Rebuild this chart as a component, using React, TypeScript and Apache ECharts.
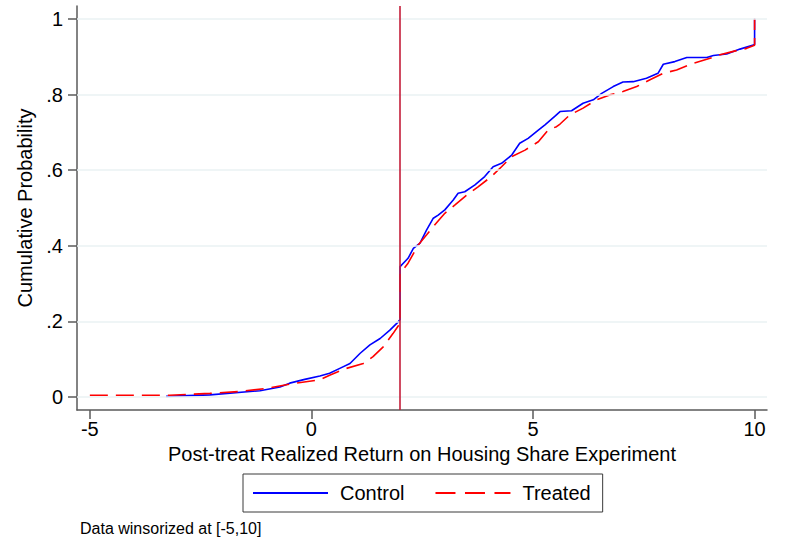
import React, { useEffect, useRef } from "react";
import * as echarts from "echarts";

const xTicks = [-5, 0, 5, 10];
const yTicks = [0, 0.2, 0.4, 0.6, 0.8, 1];
const yTickLabels = ["0", ".2", ".4", ".6", ".8", "1"];
const cutoff = 2;

const controlX = [-3.28, -2.29, -1.16, -0.71, -0.49, -0.15, 0.19, 0.41, 0.64, 0.87, 1.10, 1.32, 1.55, 1.77, 1.96, 2, 2, 2.18, 2.30, 2.45, 2.60, 2.75, 2.86, 3.01, 3.20, 3.31, 3.46, 3.69, 3.91, 4.10, 4.29, 4.52, 4.70, 4.89, 5.12, 5.27, 5.49, 5.61, 5.87, 6.13, 6.36, 6.55, 6.81, 7.03, 7.26, 7.56, 7.82, 7.94, 8.20, 8.47, 8.92, 9.07, 9.37, 9.67, 9.97, 10, 10];
const controlY = [0.002, 0.006, 0.017, 0.027, 0.037, 0.047, 0.056, 0.063, 0.076, 0.089, 0.116, 0.138, 0.155, 0.177, 0.199, 0.205, 0.345, 0.367, 0.393, 0.407, 0.442, 0.473, 0.481, 0.495, 0.521, 0.539, 0.543, 0.561, 0.583, 0.609, 0.618, 0.640, 0.671, 0.684, 0.706, 0.720, 0.742, 0.755, 0.757, 0.777, 0.786, 0.803, 0.821, 0.833, 0.834, 0.843, 0.856, 0.880, 0.887, 0.898, 0.898, 0.903, 0.907, 0.920, 0.931, 0.932, 1.0];

const treatedX = [-5, -3.20, -2.29, -1.62, -1.01, -0.42, 0.19, 0.41, 0.79, 1.17, 1.39, 1.62, 1.84, 1.97, 2, 2, 2.18, 2.41, 2.60, 2.78, 3.01, 3.24, 3.50, 3.76, 4.06, 4.29, 4.52, 4.82, 5.12, 5.34, 5.53, 5.61, 5.83, 6.13, 6.43, 6.73, 7.03, 7.34, 7.64, 7.94, 8.24, 8.61, 8.92, 9.22, 9.52, 9.82, 9.97, 10, 10];
const treatedY = [0.005, 0.005, 0.010, 0.015, 0.023, 0.036, 0.046, 0.058, 0.076, 0.089, 0.107, 0.133, 0.168, 0.190, 0.192, 0.327, 0.354, 0.402, 0.429, 0.455, 0.486, 0.508, 0.534, 0.556, 0.583, 0.609, 0.636, 0.653, 0.675, 0.706, 0.715, 0.722, 0.746, 0.764, 0.786, 0.799, 0.808, 0.821, 0.839, 0.856, 0.865, 0.882, 0.893, 0.905, 0.914, 0.922, 0.929, 0.930, 1.0];

const FONT = "'Liberation Sans', Arial, sans-serif";
const AXIS_COLOR = "#5a5a5a";

export default function App() {
  const ref = useRef<HTMLDivElement>(null);

  useEffect(() => {
    if (!ref.current) return;
    const chart = echarts.init(ref.current, null, { renderer: "svg" });
    const zip = (xs: number[], ys: number[]) => xs.map((x, i) => [x, ys[i]]);

    const option: any = {
      animation: false,
      backgroundColor: "#ffffff",
      textStyle: { fontFamily: FONT },
      title: {
        text: "Data winsorized at [-5,10]",
        left: 80,
        top: 520,
        padding: 0,
        textStyle: { fontSize: 16, fontWeight: "normal", color: "#000", fontFamily: FONT },
      },
      grid: { left: 77, right: 20, top: 6, bottom: 133 },
      xAxis: {
        type: "value",
        min: -5.29,
        max: 10.28,
        name: "Post-treat Realized Return on Housing Share Experiment",
        nameLocation: "middle",
        nameGap: 30,
        nameTextStyle: { fontSize: 20, color: "#000", fontFamily: FONT },
        axisLine: { onZero: false, lineStyle: { color: AXIS_COLOR, width: 1.5 } },
        axisTick: { customValues: xTicks, length: 9, lineStyle: { color: AXIS_COLOR, width: 1.5 } },
        axisLabel: { customValues: xTicks, margin: 9, fontSize: 20, color: "#000", fontFamily: FONT },
        splitLine: { show: false },
      },
      yAxis: {
        type: "value",
        min: -0.034,
        max: 1.034,
        name: "Cumulative Probability",
        nameLocation: "middle",
        nameGap: 41,
        nameTextStyle: { fontSize: 20, color: "#000", fontFamily: FONT },
        axisLine: { onZero: false, lineStyle: { color: AXIS_COLOR, width: 1.5 } },
        axisTick: { customValues: yTicks, length: 9, lineStyle: { color: AXIS_COLOR, width: 1.5 } },
        axisLabel: {
          customValues: yTicks,
          margin: 14,
          fontSize: 20,
          color: "#000",
          fontFamily: FONT,
          formatter: (v: number) => {
            const i = yTicks.findIndex((t) => Math.abs(t - v) < 1e-9);
            return i >= 0 ? yTickLabels[i] : "";
          },
        },
        splitLine: { show: false },
      },
      legend: {
        data: [
          { name: "Control" },
          { name: "Treated", lineStyle: { type: [20, 9.5] } },
        ],
        left: 243,
        top: 474,
        padding: [9, 12, 9, 9],
        itemWidth: 75,
        itemHeight: 14,
        itemGap: 30,
        itemStyle: { opacity: 0 },
        borderColor: "#3a3a3a",
        borderWidth: 1,
        textStyle: { fontSize: 20, color: "#000", lineHeight: 20, padding: [0, 0, 0, 7], fontFamily: FONT },
      },
      series: [
        {
          name: "ref",
          type: "line",
          data: [[cutoff, 0.5]],
          symbol: "none",
          lineStyle: { width: 0 },
          silent: true,
          z: 1,
          markLine: {
            silent: true,
            symbol: ["none", "none"],
            label: { show: false },
            animation: false,
            data: [
              ...yTicks.map((v) => ({ yAxis: v, lineStyle: { color: "#eaf2f3", width: 1.5, type: "solid" } })),
              { xAxis: cutoff, lineStyle: { color: "#c41e3a", width: 1.6, type: "solid" } },
            ],
          },
        },
        {
          name: "Control",
          type: "line",
          data: zip(controlX, controlY),
          symbol: "none",
          showSymbol: false,
          lineStyle: { color: "#0000ff", width: 1.6, type: "solid" },
          itemStyle: { color: "#0000ff" },
          z: 3,
        },
        {
          name: "Treated",
          type: "line",
          data: zip(treatedX, treatedY),
          symbol: "none",
          showSymbol: false,
          lineStyle: { color: "#ff0000", width: 1.6, type: [18, 8] },
          itemStyle: { color: "#ff0000" },
          z: 4,
        },
      ],
    };

    chart.setOption(option);
    return () => chart.dispose();
  }, []);

  return (
    <div
      ref={ref}
      style={{ position: "fixed", left: 0, top: 0, width: 787, height: 543, background: "#fff" }}
    />
  );
}
